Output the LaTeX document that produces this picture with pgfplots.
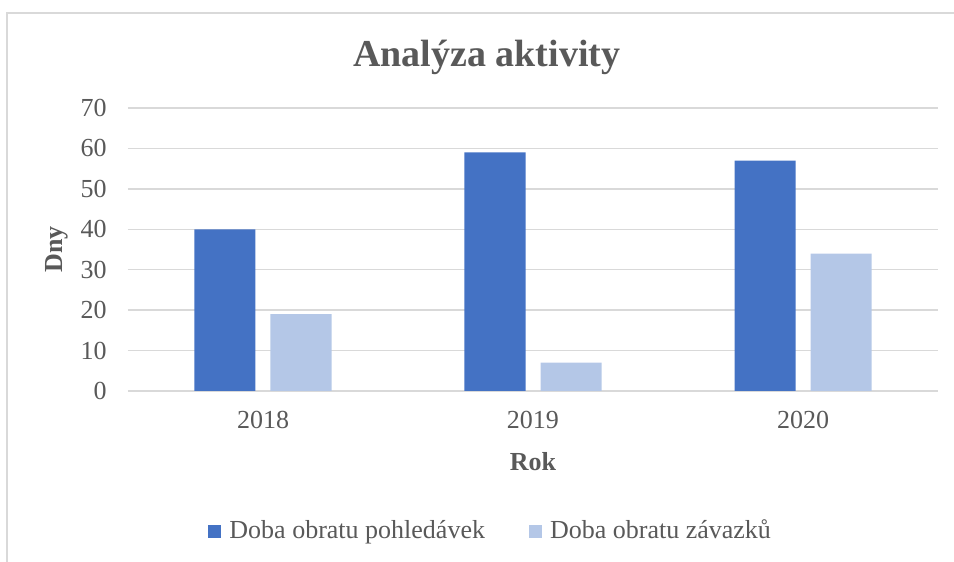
\documentclass[border=0pt]{standalone}
\usepackage{pgfplots}
\pgfplotsset{compat=1.18}
\usepackage{fontspec}
\setmainfont{Liberation Serif}
\definecolor{dblue}{HTML}{4472C4}
\definecolor{lblue}{HTML}{B4C7E7}
\definecolor{txt}{HTML}{595959}
\definecolor{gridc}{HTML}{D9D9D9}
\begin{document}
\begin{tikzpicture}
\useasboundingbox (0pt,0pt) rectangle (477pt,281pt);
\draw[gridc, line width=0.9pt] (3.5pt,0pt) -- (3.5pt,274.5pt) -- (477pt,274.5pt);
\begin{axis}[
  at={(64pt,85.5pt)}, anchor=south west,
  scale only axis, width=405pt, height=141.5pt,
  ybar, bar width=30.5pt,
  xmin=-0.5, xmax=2.5, ymin=0, ymax=70,
  xtick={0,1,2}, xticklabels={2018,2019,2020},
  ytick={0,10,...,70},
  ymajorgrids, grid style={gridc, line width=0.75pt},
  axis line style={draw=none},
  major tick length=0pt,
  /pgf/number format/assume math mode=true,
  tick label style={font=\fontsize{13}{15}\selectfont, color=txt},
  yticklabel style={xshift=-7.2pt},
  xticklabel style={yshift=-6.7pt},
  title={Analýza aktivity},
  title style={at={(axis description cs:0.443,1.104)}, anchor=base, font=\bfseries\fontsize{19}{22}\selectfont, color=txt},
  xlabel={Rok},
  xlabel style={at={(axis description cs:0.5,-0.248)}, anchor=center, font=\bfseries\fontsize{13}{15}\selectfont, color=txt},
  ylabel={Dny},
  ylabel style={at={(axis description cs:-0.0877,0.5)}, anchor=center, font=\bfseries\fontsize{13}{15}\selectfont, color=txt},
  legend columns=2,
  legend style={at={(axis description cs:0.449,-0.495)}, anchor=center, draw=none,
    font=\fontsize{13}{15}\selectfont, text=txt,
    /tikz/every even column/.append style={column sep=20pt}},
  legend image code/.code={\fill[#1] (0pt,-3.25pt) rectangle (6.5pt,3.25pt); \path (8.5pt,0pt);},
]
\addplot[fill=dblue, draw=none, bar shift=-19pt] coordinates {(0,40) (1,59) (2,57)};
\addplot[fill=lblue, draw=none, bar shift=19pt] coordinates {(0,19) (1,7) (2,34)};
\legend{Doba obratu pohledávek, Doba obratu závazků}
\end{axis}
\end{tikzpicture}
\end{document}
